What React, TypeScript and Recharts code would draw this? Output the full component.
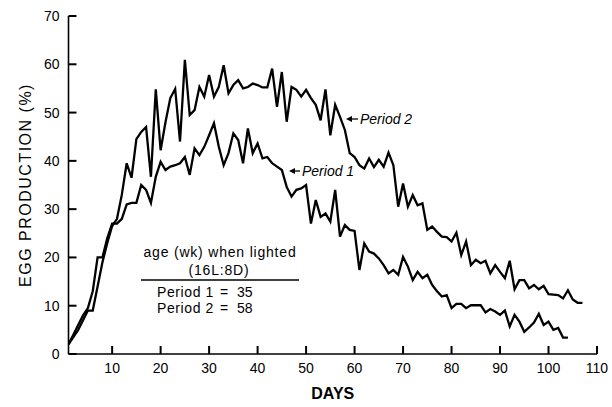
import React from 'react';
import { LineChart, Line, XAxis, YAxis, Label } from 'recharts';

// egg production (%) per day
const period1 = [
  2, 4, 6, 8, 9.5, 13, 20, 20, 24, 27,
  27, 28, 31, 31.3, 31.3, 35, 34, 31.3, 36.7, 39.8,
  38.1, 38.8, 39.1, 39.5, 40.8, 37.1, 42.6, 41.2, 42.9, 45.3,
  47.8, 42.9, 39.1, 41.6, 45.7, 44.3, 39.5, 46.7, 41.6, 43.6,
  40.5, 40.8, 39.5, 38.8, 38.1, 34.6, 32.6, 34, 34.3, 35,
  27, 31.9, 28.4, 29.1, 27.4, 34, 24.3, 26.7, 25.7, 25.5,
  17.4, 22.9, 21.2, 20.8, 19.8, 18.4, 16.7, 17.4, 16.4, 20.1,
  18.1, 15.3, 17, 15.7, 16.4, 14.3, 13, 11.9, 12.2, 9.5,
  10.4, 10.4, 9.5, 10.1, 10.1, 10.1, 8.6, 9.3, 8.8, 8.1,
  9, 5.7, 8.1, 6.7, 4.6, 5.5, 6.5, 8.3, 6, 6.7,
  5, 5.4, 3.4, 3.4,
];

const period2 = [
  2, 3.5, 5, 7, 9, 9, 14, 19, 23, 26.5,
  28, 33, 39.5, 36.5, 44.5, 46, 47, 36.7, 54.8, 42.2,
  48, 53, 54.9, 44, 60.9, 49.5, 50.5, 55.3, 53.3, 57.8,
  53.3, 55.3, 59.8, 54, 55.7, 56.7, 55, 55.3, 56, 55.7,
  55.2, 55.2, 59.1, 51.2, 58.4, 48.1, 55.3, 54.7, 53.3, 54.7,
  53, 51.6, 48.4, 54.8, 45.3, 51.6, 49.1, 46.4, 41.6, 40.8,
  39.1, 38.4, 40.5, 38.7, 40.2, 38.8, 41.7, 39.1, 30.5, 35.3,
  30.5, 32.9, 30.8, 31.2, 25.7, 26.4, 25.3, 24.3, 24.2, 23.3,
  25.1, 20.5, 23.3, 18.4, 19.5, 18.8, 19.3, 16.7, 18.4, 17,
  15.7, 19.3, 13.4, 15.3, 15.3, 13.6, 14.3, 13.4, 14.1, 12.4,
  12.3, 12.2, 11.5, 13.2, 11.3, 10.6, 10.6,
];

const xTicks = [10, 20, 30, 40, 50, 60, 70, 80, 90, 100, 110];
const yTicks = [0, 10, 20, 30, 40, 50, 60, 70];

const data = period2.map((v, i) => ({
  day: i + 1,
  p1: i < period1.length ? period1[i] : null,
  p2: v,
}));

const FONT = '"Liberation Sans", Arial, sans-serif';

// ticks point into the plot, labels sit outside
const XTick = (props: any) => {
  const { x, y, payload } = props;
  return (
    <g>
      <line x1={x} x2={x} y1={y} y2={y - 8} stroke="#000" strokeWidth={2} />
      <text x={x} y={y + 19} textAnchor="middle" fontSize={14} fontFamily={FONT} fill="#000">
        {payload.value}
      </text>
    </g>
  );
};

const YTick = (props: any) => {
  const { x, y, payload } = props;
  return (
    <g>
      <line x1={x} x2={x + 8} y1={y} y2={y} stroke="#000" strokeWidth={2} />
      <text x={x - 9} y={y + 5} textAnchor="end" fontSize={14} fontFamily={FONT} fill="#000">
        {payload.value}
      </text>
    </g>
  );
};

const App = () => {
  return (
    <div style={{ position: 'absolute', left: 0, top: 0, width: 612, height: 407, background: '#fff' }}>
      <LineChart width={612} height={407} data={data} margin={{ top: 16, right: 15, left: 0, bottom: 0 }}>
        <XAxis
          dataKey="day"
          type="number"
          domain={[1, 110]}
          ticks={xTicks}
          allowDataOverflow
          height={53}
          stroke="#000"
          strokeWidth={1.6}
          tickLine={false}
          tickSize={0}
          tickMargin={0}
          tick={<XTick />}
        >
          <Label value="DAYS" position="insideBottom" offset={8} fill="#000" fontSize={16} fontFamily={FONT} fontWeight="bold" />
        </XAxis>
        <YAxis
          type="number"
          domain={[0, 70]}
          ticks={yTicks}
          width={68.5}
          stroke="#000"
          strokeWidth={1.6}
          tickLine={false}
          tickSize={0}
          tickMargin={0}
          tick={<YTick />}
        >
          <Label
            value="EGG PRODUCTION (%)"
            angle={-90}
            position="insideLeft"
            offset={25}
            style={{ textAnchor: 'middle', letterSpacing: 1.5 }}
            fill="#000"
            fontSize={16}
            fontFamily={FONT}
          />
        </YAxis>
        <Line type="linear" dataKey="p1" stroke="#000" strokeWidth={2.3} dot={false} isAnimationActive={false} />
        <Line type="linear" dataKey="p2" stroke="#000" strokeWidth={2.3} dot={false} isAnimationActive={false} />
      </LineChart>
      <svg
        width={612}
        height={407}
        style={{ position: 'absolute', left: 0, top: 0, pointerEvents: 'none' }}
        fontFamily={FONT}
      >
        <line x1={348} x2={358} y1={119} y2={119} stroke="#000" strokeWidth={1.3} />
        <path d="M346,119 L352,116 L352,122 Z" fill="#000" />
        <text x={360} y={124} fontSize={14} fontStyle="italic" fill="#000">Period 2</text>
        <line x1={291} x2={300} y1={171} y2={171} stroke="#000" strokeWidth={1.3} />
        <path d="M289,171 L295,168 L295,174 Z" fill="#000" />
        <text x={302} y={176} fontSize={14} fontStyle="italic" fill="#000">Period 1</text>

        <text x={220} y={257} fontSize={14} letterSpacing={0.8} textAnchor="middle" fill="#000">age (wk) when lighted</text>
        <text x={219} y={275} fontSize={14} letterSpacing={0.8} textAnchor="middle" fill="#000">(16L:8D)</text>
        <line x1={141} x2={299} y1={280} y2={280} stroke="#000" strokeWidth={1.3} />
        <text x={157} y={297} fontSize={14} letterSpacing={0.6} fill="#000">Period 1</text>
        <text x={224} y={297} fontSize={14} textAnchor="middle" fill="#000">=</text>
        <text x={237} y={297} fontSize={14} fill="#000">35</text>
        <text x={157} y={313} fontSize={14} letterSpacing={0.6} fill="#000">Period 2</text>
        <text x={224} y={313} fontSize={14} textAnchor="middle" fill="#000">=</text>
        <text x={237} y={313} fontSize={14} fill="#000">58</text>
      </svg>
    </div>
  );
};

export default App;
